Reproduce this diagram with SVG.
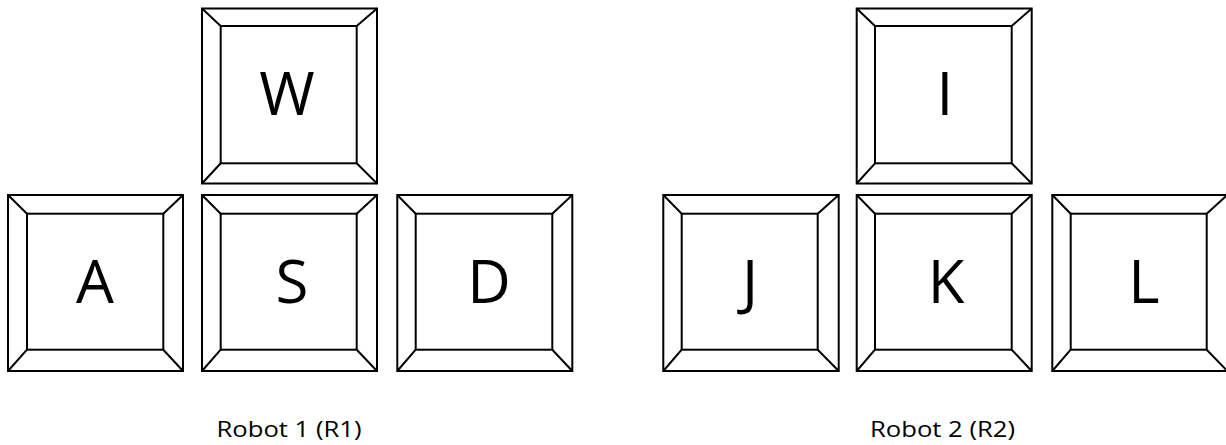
<svg xmlns="http://www.w3.org/2000/svg" width="1226" height="445" viewBox="0 0 1226 445">
<style>
.k{fill:#fff;stroke:#000;stroke-width:2}
.l{stroke:#000;stroke-width:2;fill:none}
.t{font-family:"Open Sans","Liberation Sans",sans-serif;font-size:60px;text-anchor:middle;fill:#000}
.c{font-family:"Open Sans","Liberation Sans",sans-serif;font-size:22px;text-anchor:middle;fill:#000}
</style>
<rect width="1226" height="445" fill="#fff"/>
<g id="key-W">
<rect class="k" x="202" y="8.5" width="175" height="175"/>
<rect class="k" x="220.7" y="26" width="136" height="137.3"/>
<path class="l" d="M202 8.5L220.7 26M377 8.5L356.7 26M202 183.5L220.7 163.3M377 183.5L356.7 163.3"/>
<text class="t" x="287" y="115">W</text>
</g>
<g id="key-A">
<rect class="k" x="8" y="195" width="175" height="176"/>
<rect class="k" x="27" y="213.7" width="136.3" height="136"/>
<path class="l" d="M8 195L27 213.7M183 195L163.3 213.7M8 371L27 349.7M183 371L163.3 349.7"/>
<text class="t" x="95" y="303">A</text>
</g>
<g id="key-S">
<rect class="k" x="202" y="195" width="175" height="176"/>
<rect class="k" x="220.7" y="213.7" width="136" height="136"/>
<path class="l" d="M202 195L220.7 213.7M377 195L356.7 213.7M202 371L220.7 349.7M377 371L356.7 349.7"/>
<text class="t" x="292" y="303">S</text>
</g>
<g id="key-D">
<rect class="k" x="397.3" y="195" width="175" height="176"/>
<rect class="k" x="415.7" y="213.7" width="136.6" height="136"/>
<path class="l" d="M397.3 195L415.7 213.7M572.3 195L552.3 213.7M397.3 371L415.7 349.7M572.3 371L552.3 349.7"/>
<text class="t" x="489" y="303">D</text>
</g>
<g id="key-I">
<rect class="k" x="856.7" y="8.5" width="175" height="175"/>
<rect class="k" x="875" y="26" width="136.7" height="137.3"/>
<path class="l" d="M856.7 8.5L875 26M1031.7 8.5L1011.7 26M856.7 183.5L875 163.3M1031.7 183.5L1011.7 163.3"/>
<text class="t" x="945" y="115">I</text>
</g>
<g id="key-J">
<rect class="k" x="663.3" y="195" width="175.4" height="176"/>
<rect class="k" x="681.7" y="213.7" width="136" height="136"/>
<path class="l" d="M663.3 195L681.7 213.7M838.7 195L817.7 213.7M663.3 371L681.7 349.7M838.7 371L817.7 349.7"/>
<text class="t" x="750" y="303">J</text>
</g>
<g id="key-K">
<rect class="k" x="856.7" y="195" width="175" height="176"/>
<rect class="k" x="875" y="213.7" width="136.7" height="136"/>
<path class="l" d="M856.7 195L875 213.7M1031.7 195L1011.7 213.7M856.7 371L875 349.7M1031.7 371L1011.7 349.7"/>
<text class="t" x="946" y="303">K</text>
</g>
<g id="key-L">
<rect class="k" x="1052.3" y="195" width="175" height="176"/>
<rect class="k" x="1070.7" y="213.7" width="136" height="136"/>
<path class="l" d="M1052.3 195L1070.7 213.7M1227.3 195L1206.7 213.7M1052.3 371L1070.7 349.7M1227.3 371L1206.7 349.7"/>
<text class="t" x="1144" y="303">L</text>
</g>
<g id="labels">
<text class="c" x="289" y="437" textLength="145" lengthAdjust="spacingAndGlyphs">Robot 1 (R1)</text>
<text class="c" x="942.5" y="437" textLength="145" lengthAdjust="spacingAndGlyphs">Robot 2 (R2)</text>
</g>
<g id="connectors"></g>
</svg>
